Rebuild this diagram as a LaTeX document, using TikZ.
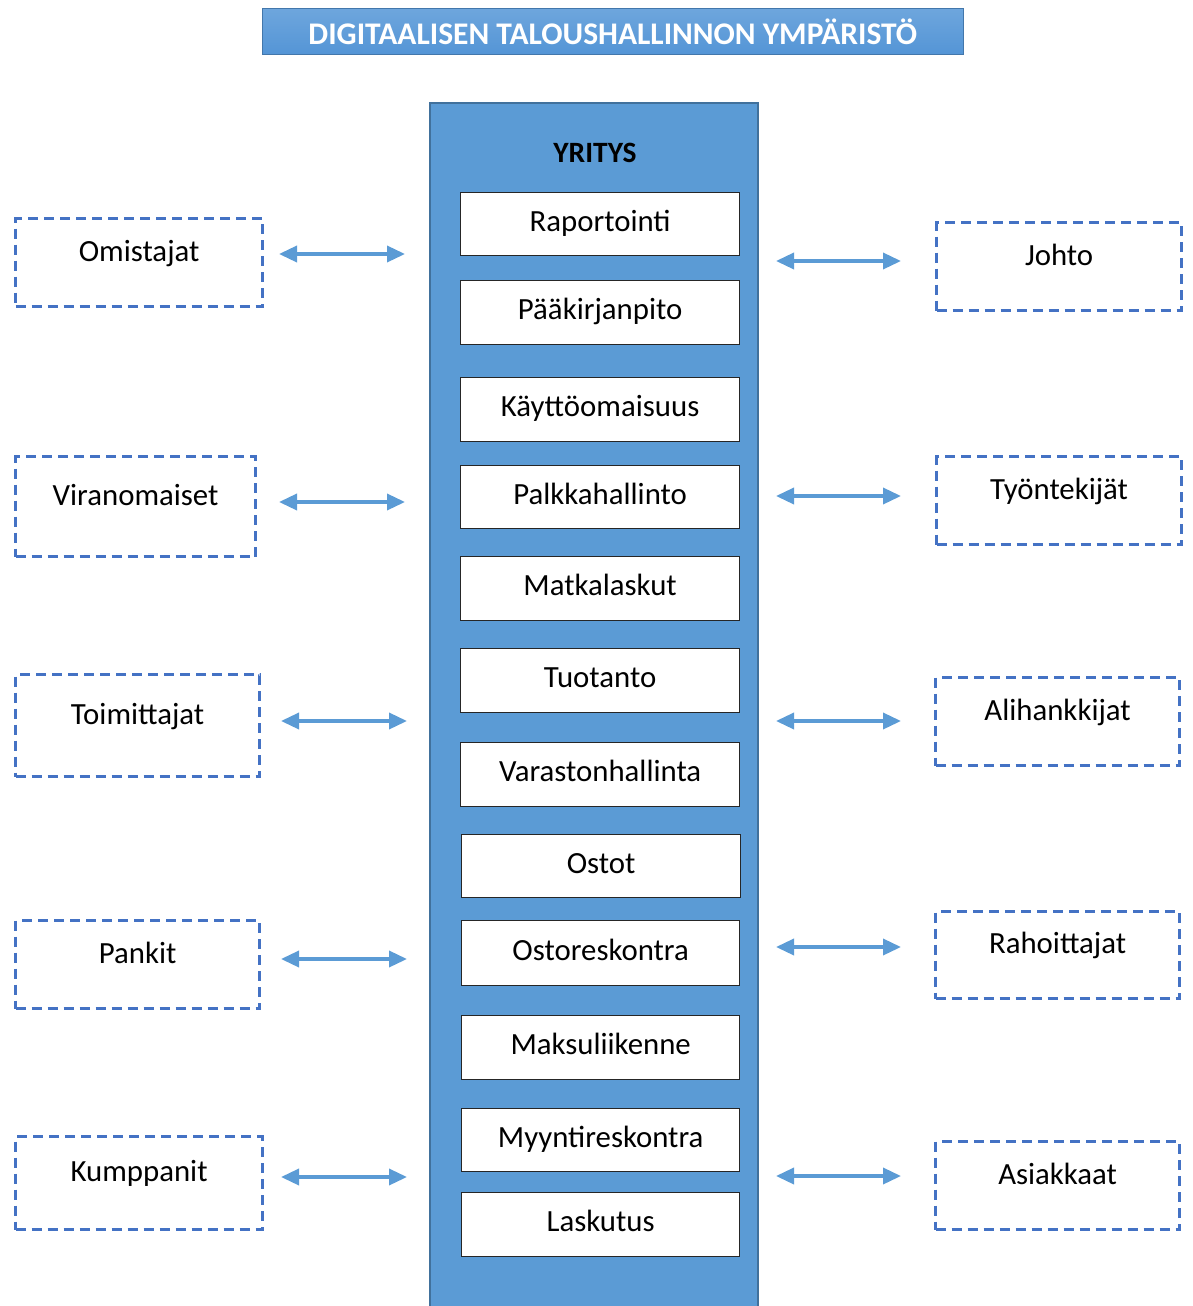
\documentclass[tikz,border=0pt]{standalone}
\usepackage{fontspec}
\setmainfont{Carlito}
\usetikzlibrary{arrows.meta}
\definecolor{offblue}{HTML}{5B9BD5}
\definecolor{titletop}{HTML}{6EA6DD}
\definecolor{titlebot}{HTML}{5495D6}
\definecolor{dashblue}{HTML}{4472C4}
\definecolor{colborder}{HTML}{41719C}
\tikzset{
  x=1pt, y=-1pt,
  basefont/.style={font=\fontsize{30.8}{36}\selectfont},
  innerbox/.style={draw=black!85, line width=1.3pt, fill=white, minimum width=279pt, minimum height=63pt, inner sep=0pt, anchor=north west, basefont, text height=19pt, text depth=5pt},
  dbox/.style={draw=dashblue, line width=3.2pt, dash pattern=on 10pt off 6pt, minimum height=88pt, inner sep=0pt, anchor=north west, basefont, text height=20pt, text depth=23pt},
  link/.style={draw=offblue, line width=3.5pt, {Triangle[length=18pt,width=16pt]}-{Triangle[length=18pt,width=16pt]}}
}
\begin{document}
\begin{tikzpicture}
\useasboundingbox (0,0) rectangle (1192,1306);
% title
\node[top color=titletop, bottom color=titlebot, draw=titlebot!80!black, line width=0.6pt, minimum width=701pt, minimum height=46pt, inner sep=0pt, anchor=north west, text=white, font=\fontsize{31.5}{36}\selectfont\bfseries] (title) at (262,8) {DIGITAALISEN TALOUSHALLINNON YMPÄRISTÖ};
% column
\node[fill=offblue, draw=colborder, line width=1.5pt, minimum width=328pt, minimum height=1220pt, inner sep=0pt, anchor=north west] (col) at (429,102) {};
\node[font=\fontsize{29.5}{34}\selectfont\bfseries] (yritys) at (595,153) {YRITYS};
% inner boxes
\node[innerbox] (b1) at (460,192) {Raportointi};
\node[innerbox, minimum height=64pt] (b2) at (460,280) {Pääkirjanpito};
\node[innerbox, minimum height=64pt] (b3) at (460,377) {Käyttöomaisuus};
\node[innerbox] (b4) at (460,465) {Palkkahallinto};
\node[innerbox, minimum height=64pt] (b5) at (460,556) {Matkalaskut};
\node[innerbox, minimum height=64pt] (b6) at (460,648) {Tuotanto};
\node[innerbox, minimum height=64pt] (b7) at (460,742) {Varastonhallinta};
\node[innerbox] (b8) at (461,834) {Ostot};
\node[innerbox, minimum width=278pt, minimum height=65pt] (b9) at (461,920) {Ostoreskontra};
\node[innerbox, minimum width=278pt, minimum height=64pt] (b10) at (461,1015) {Maksuliikenne};
\node[innerbox, minimum width=278pt] (b11) at (461,1108) {Myyntireskontra};
\node[innerbox, minimum width=278pt, minimum height=64pt] (b12) at (461,1192) {Laskutus};
% left dashed boxes
\node[dbox, minimum width=247pt] (omistajat) at (14,217) {Omistajat};
\node[dbox, minimum width=240pt, minimum height=100pt] (viranomaiset) at (14,455) {Viranomaiset};
\node[dbox, minimum width=244pt, minimum height=102pt] (toimittajat) at (14,673) {Toimittajat};
\node[dbox, minimum width=244pt] (pankit) at (14,919) {Pankit};
\node[dbox, minimum width=247pt, minimum height=93pt] (kumppanit) at (14,1135) {Kumppanit};
% right dashed boxes
\node[dbox, minimum width=245pt] (johto) at (935,221) {Johto};
\node[dbox, minimum width=245pt] (tyontekijat) at (935,455) {Työntekijät};
\node[dbox, minimum width=244pt] (alihankkijat) at (934,676) {Alihankkijat};
\node[dbox, minimum width=244pt, minimum height=87pt] (rahoittajat) at (934,910) {Rahoittajat};
\node[dbox, minimum width=244pt] (asiakkaat) at (934,1140) {Asiakkaat};
% arrow end points
\coordinate (l1a) at (279,254); \coordinate (l1b) at (405,254);
\coordinate (l2a) at (279,502); \coordinate (l2b) at (405,502);
\coordinate (l3a) at (281,721); \coordinate (l3b) at (407,721);
\coordinate (l4a) at (281,959); \coordinate (l4b) at (407,959);
\coordinate (l5a) at (281,1177); \coordinate (l5b) at (407,1177);
\coordinate (r1a) at (776,261); \coordinate (r1b) at (901,261);
\coordinate (r2a) at (776,496); \coordinate (r2b) at (901,496);
\coordinate (r3a) at (776,721); \coordinate (r3b) at (901,721);
\coordinate (r4a) at (776,947); \coordinate (r4b) at (901,947);
\coordinate (r5a) at (776,1176); \coordinate (r5b) at (901,1176);
\foreach \c in {l1,l2,l3,l4,l5,r1,r2,r3,r4,r5}{
  \draw[link] (\c a) -- (\c b);
}
\end{tikzpicture}
\end{document}
